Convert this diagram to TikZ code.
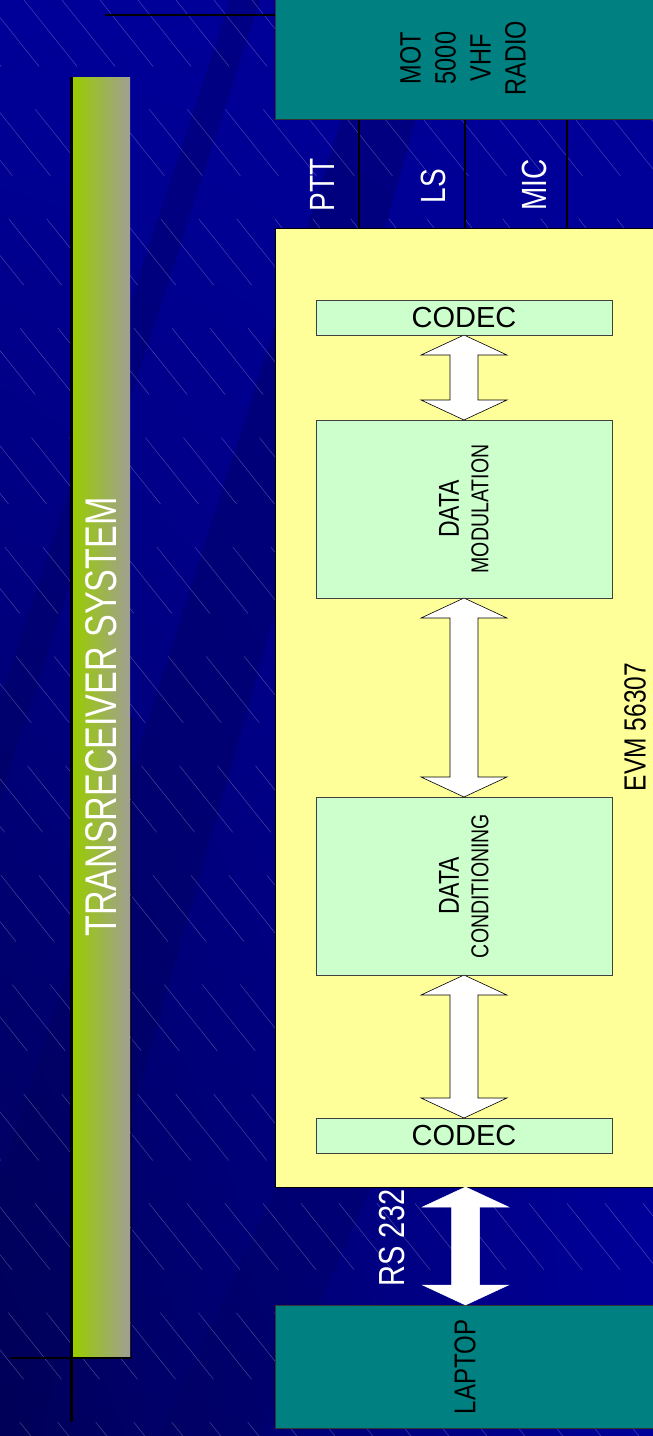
\documentclass[tikz,border=0pt]{standalone}
\usepackage{fontspec}
\setmainfont{Liberation Sans}
\usetikzlibrary{calc,shadings}
\definecolor{bgblue}{HTML}{000099}
\definecolor{bgdark}{HTML}{000058}
\definecolor{boxteal}{HTML}{008080}
\definecolor{evmyellow}{HTML}{FFFF99}
\definecolor{blockgreen}{HTML}{CCFFCC}
\definecolor{barleft}{HTML}{99CC00}
\definecolor{barright}{HTML}{A09F94}
\newcommand\blockarrow[3]{%
  \path[#1] let \p1=(#2), \p2=(#3) in
    (\x1,\y1) -- (\x1+43pt,\y1-20pt) -- (\x1+14pt,\y1-20pt) -- (\x1+14pt,\y2+20pt)
    -- (\x1+43pt,\y2+20pt) -- (\x1,\y2) -- (\x1-43pt,\y2+20pt) -- (\x1-14pt,\y2+20pt)
    -- (\x1-14pt,\y1-20pt) -- (\x1-43pt,\y1-20pt) -- cycle;}
\begin{document}
\begin{tikzpicture}[x=1pt,y=-1pt,
  tealbox/.style={draw=black!80, line width=0.6pt, fill=boxteal, inner sep=0pt, outer sep=0pt},
  gbox/.style={draw=black!75, line width=0.6pt, fill=blockgreen, inner sep=0pt, outer sep=0pt,
    minimum width=296pt, font=\fontsize{29}{34}\selectfont},
  rtext/.style={xscale=1.25, rotate=90, inner sep=0pt},
  wlabel/.style={rtext, text=white, font=\fontsize{28}{32}\selectfont},
  blabel/.style={rtext, text=black},
  hollowarrow/.style={draw=black, line width=0.6pt, fill=white},
  whitearrow/.style={draw=white, line width=0.5pt, fill=white},
  thinline/.style={draw=black, line width=1.2pt}]
\useasboundingbox (0,0) rectangle (653,1436);
% background
\begin{scope}
\clip (0,0) rectangle (653,1436);
\shade[lower left=bgdark, upper left=bgblue, upper right=bgblue, lower right=bgblue] (0,0) rectangle (653,1436);
\fill[bgdark, opacity=0.35] (0,1180) -- (380,0) -- (450,0) -- (40,1436) -- (0,1436) -- cycle;
\fill[bgdark, opacity=0.25] (160,1436) -- (653,380) -- (653,560) -- (260,1436) -- cycle;
\fill[bgdark, opacity=0.3] (0,700) -- (230,0) -- (260,0) -- (0,800) -- cycle;
\foreach \k in {-1800,-1762,...,660}
  \draw[white, opacity=0.3, line width=0.4pt, dash pattern=on 85pt off 55pt] (\k,0) -- ++(1150,1440);
\end{scope}
% title bar and template lines
\node[draw=none, left color=barleft, right color=barright, minimum width=57pt, minimum height=1280pt,
  inner sep=0pt, outer sep=0pt] (bar) at (101.5,717) {};
\draw[line width=2.6pt] (71.3,77) -- (71.3,1422);
\draw[line width=2pt] (10,1357.5) -- (131.5,1357.5);
\draw[line width=1.6pt] (131.5,717) -- (131.5,1357.5);
\draw[line width=1.4pt] (105,15) -- (275,15);
\node[rtext, xscale=0.96, text=white, font=\fontsize{35.5}{40}\selectfont] (title) at (bar.center) {TRANSRECEIVER SYSTEM};
% radio
\node[tealbox, anchor=south west, minimum width=381pt, minimum height=122pt] (radio) at (275,119.5) {};
\node[blabel, align=center, font=\fontsize{23.5}{28}\selectfont] (radiotext) at (463,58) {MOT\\5000\\VHF\\RADIO};
% connector strip
\draw[thinline] (359,119.5) -- (359,228);
\draw[thinline] (465,119.5) -- (465,228);
\draw[thinline] (567,119.5) -- (567,228);
\node[wlabel] (ptt) at (322,185) {PTT};
\node[wlabel] (ls) at (433,186) {LS};
\node[wlabel] (mic) at (534,185) {MIC};
% EVM board
\node[draw=black, line width=0.8pt, fill=evmyellow, anchor=north west, minimum width=381pt,
  minimum height=959pt, inner sep=0pt, outer sep=0pt] (evm) at (275,228) {};
\node[blabel, font=\fontsize{24.5}{28}\selectfont] (evmlabel) at (635,727) {EVM 56307};
\node[gbox, minimum height=35pt] (codec1) at (464,317.5) {CODEC};
\node[gbox, minimum height=178pt] (mod) at (464,509) {};
\node[blabel, font=\fontsize{23}{26}\selectfont] (modA) at (449,509) {DATA};
\node[blabel, font=\fontsize{19.5}{22}\selectfont] (modB) at (480,509) {MODULATION};
\node[gbox, minimum height=178pt] (cond) at (464,886) {};
\node[blabel, font=\fontsize{23}{26}\selectfont] (condA) at (449,886) {DATA};
\node[blabel, font=\fontsize{19.5}{22}\selectfont] (condB) at (480,886) {CONDITIONING};
\node[gbox, minimum height=35pt] (codec2) at (464,1135.5) {CODEC};
\blockarrow{hollowarrow}{codec1.south}{mod.north}
\blockarrow{hollowarrow}{mod.south}{cond.north}
\blockarrow{hollowarrow}{cond.south}{codec2.north}
% laptop
\node[tealbox, anchor=north west, minimum width=381pt, minimum height=123pt] (laptop) at (275,1305) {};
\node[blabel, font=\fontsize{24}{28}\selectfont] (laptoptext) at (465,1367) {LAPTOP};
\blockarrow{whitearrow}{evm.south}{laptop.north}
\node[wlabel, font=\fontsize{29}{33}\selectfont] (rs) at (392,1238) {RS 232};
\end{tikzpicture}
\end{document}
